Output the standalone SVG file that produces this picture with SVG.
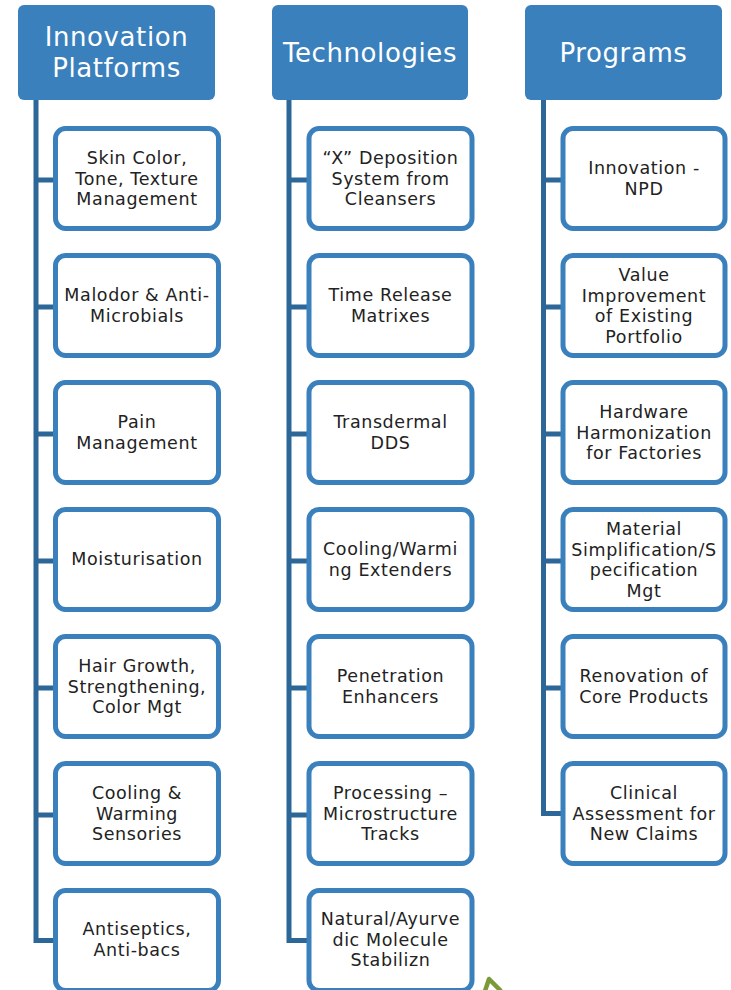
<svg xmlns="http://www.w3.org/2000/svg" width="731" height="990" viewBox="0 0 731 990">
<style>
.hdr{fill:#3a80bd;}
.ht{fill:#ffffff;font-family:"DejaVu Sans",sans-serif;font-size:26px;letter-spacing:0.6px;text-anchor:middle;}
.box{fill:#ffffff;stroke:#3a80bd;stroke-width:5;}
.bt{fill:#222222;font-family:"DejaVu Sans",sans-serif;font-size:17.5px;letter-spacing:0.6px;text-anchor:middle;}
.ln{stroke:#2d6798;stroke-width:5;fill:none;}
</style>
<rect width="731" height="990" fill="#ffffff"/>
<g id="connectors">
<path class="ln" d="M36,100 V943"/>
<path class="ln" d="M289,100 V943"/>
<path class="ln" d="M543.5,100 V816"/>
<path class="ln" d="M36,180 H56 M36,307 H56 M36,434 H56 M36,561 H56 M36,688 H56 M36,815 H56 M36,940.5 H56"/>
<path class="ln" d="M289,180 H309 M289,307 H309 M289,434 H309 M289,561 H309 M289,688 H309 M289,815 H309 M289,940.5 H309"/>
<path class="ln" d="M543.5,180 H563 M543.5,307 H563 M543.5,434 H563 M543.5,561 H563 M543.5,688 H563 M543.5,813.5 H563"/>
</g>
<g id="h1"><rect class="hdr" x="18" y="5" width="197" height="95" rx="6"/><text class="ht" x="116.5" y="46">Innovation</text><text class="ht" x="116.5" y="77">Platforms</text></g>
<g id="h2"><rect class="hdr" x="272" y="5" width="196" height="95" rx="6"/><text class="ht" x="370" y="62">Technologies</text></g>
<g id="h3"><rect class="hdr" x="525" y="5" width="197" height="95" rx="6"/><text class="ht" x="623.5" y="62">Programs</text></g>

<g id="c1n1"><rect class="box" x="55.5" y="128.5" width="163" height="100" rx="10"/><text class="bt" x="137" y="164">Skin Color,</text><text class="bt" x="137" y="184.5">Tone, Texture</text><text class="bt" x="137" y="205">Management</text></g>
<g id="c1n2"><rect class="box" x="55.5" y="255.5" width="163" height="100" rx="10"/><text class="bt" x="137" y="301">Malodor &amp; Anti-</text><text class="bt" x="137" y="321.5">Microbials</text></g>
<g id="c1n3"><rect class="box" x="55.5" y="382.5" width="163" height="100" rx="10"/><text class="bt" x="137" y="428">Pain</text><text class="bt" x="137" y="448.5">Management</text></g>
<g id="c1n4"><rect class="box" x="55.5" y="509.5" width="163" height="100" rx="10"/><text class="bt" x="137" y="565">Moisturisation</text></g>
<g id="c1n5"><rect class="box" x="55.5" y="636.5" width="163" height="100" rx="10"/><text class="bt" x="137" y="672">Hair Growth,</text><text class="bt" x="137" y="692.5">Strengthening,</text><text class="bt" x="137" y="713">Color Mgt</text></g>
<g id="c1n6"><rect class="box" x="55.5" y="763.5" width="163" height="100" rx="10"/><text class="bt" x="137" y="799">Cooling &amp;</text><text class="bt" x="137" y="819.5">Warming</text><text class="bt" x="137" y="840">Sensories</text></g>
<g id="c1n7"><rect class="box" x="55.5" y="890.5" width="163" height="100" rx="10"/><text class="bt" x="137" y="935">Antiseptics,</text><text class="bt" x="137" y="955.5">Anti-bacs</text></g>

<g id="c2n1"><rect class="box" x="309" y="128.5" width="163" height="100" rx="10"/><text class="bt" x="390.5" y="164">“X” Deposition</text><text class="bt" x="390.5" y="184.5">System from</text><text class="bt" x="390.5" y="205">Cleansers</text></g>
<g id="c2n2"><rect class="box" x="309" y="255.5" width="163" height="100" rx="10"/><text class="bt" x="390.5" y="301">Time Release</text><text class="bt" x="390.5" y="321.5">Matrixes</text></g>
<g id="c2n3"><rect class="box" x="309" y="382.5" width="163" height="100" rx="10"/><text class="bt" x="390.5" y="428">Transdermal</text><text class="bt" x="390.5" y="448.5">DDS</text></g>
<g id="c2n4"><rect class="box" x="309" y="509.5" width="163" height="100" rx="10"/><text class="bt" x="390.5" y="555">Cooling/Warmi</text><text class="bt" x="390.5" y="575.5">ng Extenders</text></g>
<g id="c2n5"><rect class="box" x="309" y="636.5" width="163" height="100" rx="10"/><text class="bt" x="390.5" y="682">Penetration</text><text class="bt" x="390.5" y="702.5">Enhancers</text></g>
<g id="c2n6"><rect class="box" x="309" y="763.5" width="163" height="100" rx="10"/><text class="bt" x="390.5" y="799">Processing –</text><text class="bt" x="390.5" y="819.5">Microstructure</text><text class="bt" x="390.5" y="840">Tracks</text></g>
<g id="c2n7"><rect class="box" x="309" y="890.5" width="163" height="100" rx="10"/><text class="bt" x="390.5" y="925">Natural/Ayurve</text><text class="bt" x="390.5" y="945.5">dic Molecule</text><text class="bt" x="390.5" y="966">Stabilizn</text></g>

<g id="c3n1"><rect class="box" x="563" y="128.5" width="162" height="100" rx="10"/><text class="bt" x="644" y="174">Innovation -</text><text class="bt" x="644" y="194.5">NPD</text></g>
<g id="c3n2"><rect class="box" x="563" y="255.5" width="162" height="100" rx="10"/><text class="bt" x="644" y="281">Value</text><text class="bt" x="644" y="301.5">Improvement</text><text class="bt" x="644" y="322">of Existing</text><text class="bt" x="644" y="342.5">Portfolio</text></g>
<g id="c3n3"><rect class="box" x="563" y="382.5" width="162" height="100" rx="10"/><text class="bt" x="644" y="418">Hardware</text><text class="bt" x="644" y="438.5">Harmonization</text><text class="bt" x="644" y="459">for Factories</text></g>
<g id="c3n4"><rect class="box" x="563" y="509.5" width="162" height="100" rx="10"/><text class="bt" x="644" y="535">Material</text><text class="bt" x="644" y="555.5">Simplification/S</text><text class="bt" x="644" y="576">pecification</text><text class="bt" x="644" y="596.5">Mgt</text></g>
<g id="c3n5"><rect class="box" x="563" y="636.5" width="162" height="100" rx="10"/><text class="bt" x="644" y="682">Renovation of</text><text class="bt" x="644" y="702.5">Core Products</text></g>
<g id="c3n6"><rect class="box" x="563" y="763.5" width="162" height="100" rx="10"/><text class="bt" x="644" y="799">Clinical</text><text class="bt" x="644" y="819.5">Assessment for</text><text class="bt" x="644" y="840">New Claims</text></g>

<g id="green-mark"><polyline points="485,991 489,979 501,991" fill="none" stroke="#7a9a3a" stroke-width="4.5" stroke-linejoin="round"/></g>
</svg>
